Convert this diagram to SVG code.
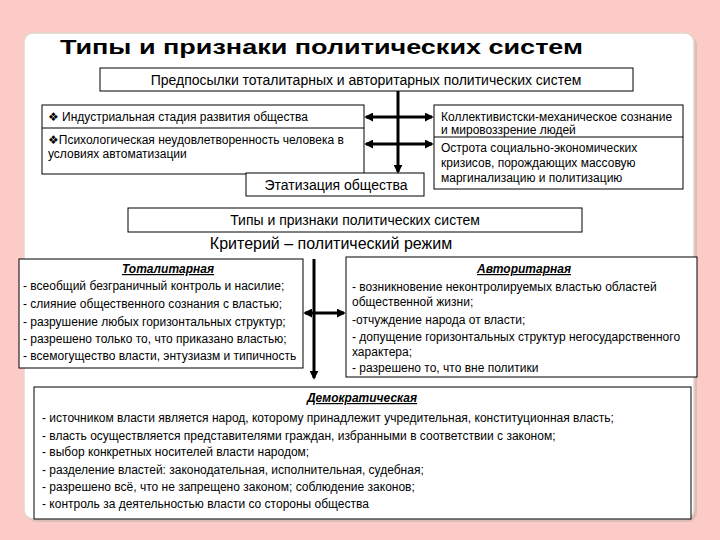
<svg xmlns="http://www.w3.org/2000/svg" width="720" height="540" viewBox="0 0 720 540">
<style>
.t{font-family:"Liberation Sans",Arial,"DejaVu Sans",sans-serif;fill:#000}
.s11{font-size:12px}
.s14{font-size:14px}
.box{fill:#fff;stroke:#000;stroke-width:1}
.ln{stroke:#000;stroke-width:3;fill:none}
.h{font-weight:bold;font-style:italic;text-decoration:underline;font-size:12px}
</style>
<defs>
<marker id="ah" viewBox="0 0 10 10" refX="8" refY="5" markerWidth="3" markerHeight="3" orient="auto-start-reverse" markerUnits="strokeWidth"><path d="M0,0 L10,5 L0,10 z" fill="#000"/></marker>
</defs>
<rect width="720" height="540" fill="#fccbc8"/>
<rect x="27" y="36" width="670" height="486" rx="9" fill="#c8b4ae" opacity="0.6"/>
<rect x="24" y="33" width="670" height="486" rx="9" fill="#fff" stroke="#e2d6cc" stroke-width="1.5"/>

<g id="title"><text class="t" x="60" y="54" font-size="21" font-weight="bold" textLength="523" lengthAdjust="spacingAndGlyphs">Типы и признаки политических систем</text></g>

<g id="prereq"><rect class="box" x="100" y="68" width="533" height="23"/><text class="t s14" x="366" y="85" text-anchor="middle">Предпосылки тоталитарных и авторитарных политических систем</text></g>

<g id="left-factors"><rect class="box" x="42" y="105" width="322" height="69"/><line x1="42" y1="128" x2="364" y2="128" stroke="#000"/>
<text class="t s11" x="48" y="121">❖ Индустриальная стадия развития общества</text>
<text class="t s11" x="48" y="144">❖Психологическая неудовлетворенность человека в</text>
<text class="t s11" x="48" y="158">условиях автоматизации</text></g>

<g id="right-factors"><rect class="box" x="434" y="105" width="249" height="84"/><line x1="434" y1="137" x2="683" y2="137" stroke="#000"/>
<text class="t s11" x="441" y="121">Коллективистски-механическое сознание</text>
<text class="t s11" x="441" y="134">и мировоззрение людей</text>
<text class="t s11" x="441" y="152">Острота социально-экономических</text>
<text class="t s11" x="441" y="167">кризисов, порождающих массовую</text>
<text class="t s11" x="441" y="182">маргинализацию и политизацию</text></g>

<g id="etatization"><rect class="box" x="246" y="173" width="178" height="23"/><text class="t s14" x="336" y="190" text-anchor="middle">Этатизация общества</text></g>

<g id="types"><rect class="box" x="128" y="208" width="454" height="24"/><text class="t s14" x="355" y="225" text-anchor="middle">Типы и признаки политических систем</text></g>

<g id="criterion"><text class="t" font-size="16" x="331" y="249" text-anchor="middle">Критерий – политический режим</text></g>

<g id="totalitarian"><rect class="box" x="19" y="259" width="284" height="109"/>
<text class="t h" x="168" y="273" text-anchor="middle">Тоталитарная</text>
<text class="t s11" x="23" y="290">- всеобщий безграничный контроль и насилие;</text>
<text class="t s11" x="23" y="308">- слияние общественного сознания с властью;</text>
<text class="t s11" x="23" y="326">- разрушение любых горизонтальных структур;</text>
<text class="t s11" x="23" y="343">- разрешено только то, что приказано властью;</text>
<text class="t s11" x="23" y="360">- всемогущество власти, энтузиазм и типичность</text></g>

<g id="authoritarian"><rect class="box" x="346" y="257" width="351" height="120"/>
<text class="t h" x="524" y="273" text-anchor="middle">Авторитарная</text>
<text class="t s11" x="352" y="291">- возникновение неконтролируемых властью областей</text>
<text class="t s11" x="352" y="306">общественной жизни;</text>
<text class="t s11" x="352" y="324">-отчуждение народа от власти;</text>
<text class="t s11" x="352" y="341">- допущение горизонтальных структур негосударственного</text>
<text class="t s11" x="352" y="356">характера;</text>
<text class="t s11" x="352" y="372">- разрешено то, что вне политики</text></g>

<g id="democratic"><rect class="box" x="34" y="387" width="657" height="132"/>
<text class="t h" x="362" y="402" text-anchor="middle">Демократическая</text>
<text class="t s11" x="42" y="422">- источником власти является народ, которому принадлежит учредительная, конституционная власть;</text>
<text class="t s11" x="42" y="440">- власть осуществляется представителями граждан, избранными в соответствии с законом;</text>
<text class="t s11" x="42" y="456">- выбор конкретных носителей власти народом;</text>
<text class="t s11" x="42" y="474">- разделение властей: законодательная, исполнительная, судебная;</text>
<text class="t s11" x="42" y="491">- разрешено всё, что не запрещено законом; соблюдение законов;</text>
<text class="t s11" x="42" y="508">- контроль за деятельностью власти со стороны общества</text></g>

<g id="connectors">
<line class="ln" x1="398" y1="91" x2="398" y2="172" marker-end="url(#ah)"/>
<line class="ln" x1="366" y1="117" x2="432" y2="117" marker-start="url(#ah)" marker-end="url(#ah)"/>
<line class="ln" x1="366" y1="144" x2="432" y2="144" marker-start="url(#ah)" marker-end="url(#ah)"/>
<line class="ln" x1="314" y1="259" x2="314" y2="378" marker-end="url(#ah)"/>
<line class="ln" x1="305" y1="313" x2="344" y2="313" marker-start="url(#ah)" marker-end="url(#ah)"/>
</g>
</svg>
